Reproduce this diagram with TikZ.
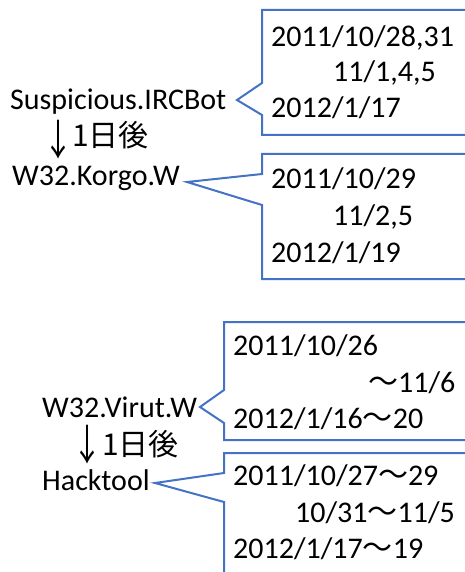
\documentclass[tikz,border=0pt]{standalone}
\usepackage{fontspec}
\setmainfont{Carlito}
\newfontfamily\cjk{Noto Sans CJK JP}
\definecolor{callblue}{RGB}{68,114,196}
\tikzset{
  lbl/.style={anchor=base west, inner sep=0pt, font=\fontsize{30}{36}\selectfont},
  arr/.style={anchor=center, inner sep=0pt, font=\fontsize{30}{36}\selectfont},
  callout/.style={draw=callblue, line width=2pt, line join=miter}
}
\begin{document}
\begin{tikzpicture}[x=1pt,y=-1pt]
\useasboundingbox (0,0) rectangle (465,572);
\clip (0,0) rectangle (465,572);
% callouts
\draw[callout] (475,10) -- (262,10) -- (262,83) -- (237,100) -- (262,115) -- (262,135) -- (475,135);
\draw[callout] (475,154) -- (262,154) -- (262,174) -- (187,182) -- (262,205) -- (262,279) -- (475,279);
\draw[callout] (475,322) -- (224,322) -- (224,390) -- (200,407) -- (224,423) -- (224,440) -- (475,440);
\draw[callout] (475,453) -- (224,453) -- (224,473) -- (155,483) -- (224,502) -- (224,580);
% group 1
\node[lbl] (irc) at (10,110) {Suspicious.IRCBot};
\node[arr] (ar1) at (58,140) {\scalebox{1}[1.4]{\cjk ↓}};
\node[lbl] (d1) at (72,147) {\cjk 1日後};
\node[lbl] (korgo) at (12,185) {W32.Korgo.W};
\node[lbl] (a1) at (271,47) {2011/10/28,31};
\node[lbl] (a2) at (333,82) {11/1,4,5};
\node[lbl] (a3) at (271,118) {2012/1/17};
\node[lbl] (b1) at (271,188) {2011/10/29};
\node[lbl] (b2) at (333,225) {11/2,5};
\node[lbl] (b3) at (271,262) {2012/1/19};
% group 2
\node[lbl] (virut) at (42,417) {W32.Virut.W};
\node[arr] (ar2) at (87,445) {\scalebox{1}[1.4]{\cjk ↓}};
\node[lbl] (d2) at (102,455) {\cjk 1日後};
\node[lbl] (hack) at (42,490) {Hacktool};
\node[lbl] (c1) at (233,355) {2011/10/26};
\node[lbl] (c2) at (368,392) {{\cjk ～}11/6};
\node[lbl] (c3) at (233,428) {2012/1/16{\cjk ～}20};
\node[lbl] (e1) at (233,485) {2011/10/27{\cjk ～}29};
\node[lbl] (e2) at (295,522) {10/31{\cjk ～}11/5};
\node[lbl] (e3) at (233,558) {2012/1/17{\cjk ～}19};
\end{tikzpicture}
\end{document}
